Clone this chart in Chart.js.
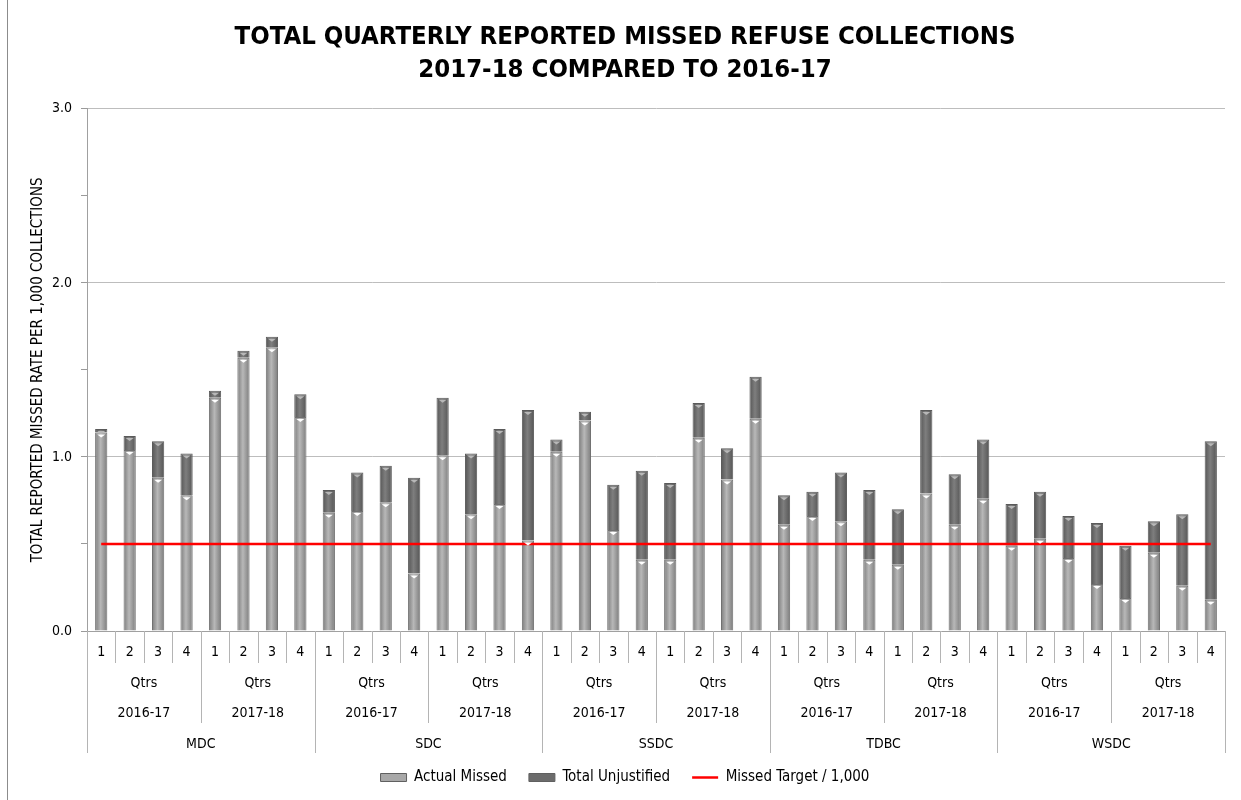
<!DOCTYPE html>
<html>
<head>
<meta charset="utf-8">
<script src="https://cdn.jsdelivr.net/npm/chart.js@4/dist/chart.umd.min.js"></script>
<style>
  html, body { margin: 0; padding: 0; background: #fff; }
  #wrap { position: relative; width: 1241px; height: 800px; }
  #frame { position: absolute; left: 7px; top: 0; width: 1px; height: 800px; background: #8c8c8c; }
</style>
</head>
<body>
<div id="wrap">
  <canvas id="missedChart" width="1241" height="800"></canvas>
  <div id="frame"></div>
</div>
<script>
// Categorias
const councils = ["MDC", "SDC", "SSDC", "TDBC", "WSDC"]
const years = ["2016-17", "2017-18"]
const quarters = ["1", "2", "3", "4"]

// Valores, por conselho: 2016-17 Q1-4 e depois 2017-18 Q1-4
const actualMissed = [
  1.14, 1.04, 0.88, 0.78, 1.34, 1.57, 1.63, 1.23,
  0.68, 0.69, 0.74, 0.33, 1.01, 0.67, 0.73, 0.52,
  1.03, 1.21, 0.58, 0.41, 0.41, 1.11, 0.87, 1.22,
  0.61, 0.66, 0.63, 0.41, 0.38, 0.79, 0.61, 0.76,
  0.49, 0.53, 0.42, 0.27, 0.19, 0.45, 0.26, 0.18,
]
const totalUnjustified = [
  0.02, 0.08, 0.21, 0.24, 0.04, 0.04, 0.06, 0.13,
  0.13, 0.22, 0.21, 0.55, 0.33, 0.35, 0.43, 0.75,
  0.07, 0.05, 0.26, 0.51, 0.44, 0.20, 0.18, 0.24,
  0.17, 0.14, 0.28, 0.40, 0.32, 0.48, 0.29, 0.34,
  0.24, 0.27, 0.24, 0.35, 0.30, 0.18, 0.41, 0.91,
]
const missedTarget = [
  0.5, 0.5, 0.5, 0.5, 0.5, 0.5, 0.5, 0.5,
  0.5, 0.5, 0.5, 0.5, 0.5, 0.5, 0.5, 0.5,
  0.5, 0.5, 0.5, 0.5, 0.5, 0.5, 0.5, 0.5,
  0.5, 0.5, 0.5, 0.5, 0.5, 0.5, 0.5, 0.5,
  0.5, 0.5, 0.5, 0.5, 0.5, 0.5, 0.5, 0.5,
]
const yTicks = [0, 0.5, 1, 1.5, 2, 2.5, 3]

const labels = councils.flatMap(() => years.flatMap(() => quarters))

const FONT = "'Liberation Sans Narrow', 'Arial Narrow', 'DejaVu Sans Condensed', 'Liberation Sans', sans-serif"
const BAR_PCT = 0.43

// Gradiente horizontal em cada barra (efeito cilindro)
function barGradient(light, dark, solid) {
  return (c) => {
    const chart = c.chart
    const x = chart.scales && chart.scales.x
    if (!x || c.type !== "data" || !x.width) return solid
    const cx = x.getPixelForValue(c.dataIndex)
    const half = (x.width / labels.length) * BAR_PCT / 2
    const g = chart.ctx.createLinearGradient(cx - half, 0, cx + half, 0)
    g.addColorStop(0, dark)
    g.addColorStop(0.45, light)
    g.addColorStop(1, dark)
    return g
  }
}

// Triângulos no topo de cada segmento + etiquetas agrupadas do eixo X
const decorPlugin = {
  id: "decor",
  afterDatasetsDraw(chart) {
    const ctx = chart.ctx
    const tri = [[0, "#ffffff"], [1, "#b8b8b8"]]
    tri.forEach(([di, color]) => {
      const meta = chart.getDatasetMeta(di)
      meta.data.forEach((bar) => {
        ctx.save()
        ctx.fillStyle = color
        ctx.beginPath()
        ctx.moveTo(bar.x - 4, bar.y + 2)
        ctx.lineTo(bar.x + 4, bar.y + 2)
        ctx.lineTo(bar.x, bar.y + 5)
        ctx.closePath()
        ctx.fill()
        ctx.restore()
      })
    })
  },
  afterDraw(chart) {
    const ctx = chart.ctx
    const x = chart.scales.x
    const bottom = chart.chartArea.bottom
    const step = x.width / labels.length
    const edge = (i) => x.getPixelForValue(i) - step / 2
    ctx.save()
    ctx.strokeStyle = "#b4b4b4"
    ctx.lineWidth = 1
    for (let i = 0; i <= labels.length; i++) {
      let len = 32
      if (i % (quarters.length * years.length) === 0) len = 122
      else if (i % quarters.length === 0) len = 92
      const px = Math.round(edge(i)) + 0.5
      ctx.beginPath()
      ctx.moveTo(px, bottom)
      ctx.lineTo(px, bottom + len)
      ctx.stroke()
    }
    ctx.fillStyle = "#000"
    ctx.textAlign = "center"
    ctx.textBaseline = "middle"
    ctx.font = "14px " + FONT
    const perYear = quarters.length
    for (let g = 0; g < councils.length * years.length; g++) {
      const cx = (edge(g * perYear) + edge((g + 1) * perYear)) / 2
      ctx.fillText("Qtrs", cx, bottom + 52)
      ctx.fillText(years[g % years.length], cx, bottom + 82)
    }
    const perCouncil = quarters.length * years.length
    councils.forEach((name, k) => {
      const cx = (edge(k * perCouncil) + edge((k + 1) * perCouncil)) / 2
      ctx.fillText(name, cx, bottom + 113)
    })
    ctx.restore()
  },
}

function createChart() {
  const ctx = document.getElementById("missedChart").getContext("2d")
  const Chart = window.Chart
  new Chart(ctx, {
    type: "bar",
    data: {
      labels: labels,
      datasets: [
        {
          label: "Actual Missed",
          data: actualMissed,
          backgroundColor: barGradient("#b8b8b8", "#7c7c7c", "#a0a0a0"),
          borderColor: "#707070",
          borderWidth: 1,
          barPercentage: BAR_PCT,
          categoryPercentage: 1,
          stack: "missed",
          order: 2,
        },
        {
          label: "Total Unjustified",
          data: totalUnjustified,
          backgroundColor: barGradient("#7e7e7e", "#555555", "#6a6a6a"),
          borderColor: "#5a5a5a",
          borderWidth: 1,
          barPercentage: BAR_PCT,
          categoryPercentage: 1,
          stack: "missed",
          order: 2,
        },
        {
          type: "line",
          label: "Missed Target / 1,000",
          data: missedTarget,
          borderColor: "#ff0000",
          backgroundColor: "#ff0000",
          borderWidth: 2.5,
          pointRadius: 0,
          fill: false,
          stack: "target",
          order: 0,
        },
      ],
    },
    plugins: [decorPlugin],
    options: {
      responsive: false,
      animation: false,
      layout: { padding: { left: 25, right: 16, top: 0, bottom: 5 } },
      plugins: {
        title: {
          display: true,
          text: ["TOTAL QUARTERLY REPORTED MISSED REFUSE COLLECTIONS", "2017-18 COMPARED TO 2016-17"],
          color: "#000",
          font: { family: FONT, size: 25.5, weight: "bold", lineHeight: 1.29 },
          padding: { top: 21, bottom: 22 },
        },
        legend: {
          display: true,
          position: "bottom",
          labels: {
            usePointStyle: true,
            pointStyleWidth: 26,
            boxHeight: 8,
            padding: 22,
            color: "#000",
            font: { family: FONT, size: 15 },
            generateLabels: (chart) => {
              const base = Chart.defaults.plugins.legend.labels.generateLabels(chart)
              const fills = ["#a8a8a8", "#6c6c6c", "#ff0000"]
              const styles = ["rect", "rect", "line"]
              return base
                .sort((a, b) => a.datasetIndex - b.datasetIndex)
                .map((item) => {
                  const i = item.datasetIndex
                  return {
                    ...item,
                    fillStyle: fills[i],
                    strokeStyle: i === 2 ? "#ff0000" : "#606060",
                    lineWidth: i === 2 ? 2.5 : 1,
                    pointStyle: styles[i],
                  }
                })
            },
          },
        },
        tooltip: { enabled: false },
      },
      scales: {
        x: {
          stacked: true,
          offset: true,
          grid: { display: false, drawTicks: false },
          border: { display: true, color: "#a0a0a0" },
          ticks: {
            color: "#000",
            padding: 13,
            font: { family: FONT, size: 14 },
            maxRotation: 0,
            autoSkip: false,
          },
          afterFit: (scale) => { scale.height = 117 },
        },
        y: {
          stacked: true,
          min: 0,
          max: 3,
          afterBuildTicks: (scale) => { scale.ticks = yTicks.map((v) => ({ value: v })) },
          grid: {
            color: (c) => (c.tick && c.tick.value > 0 && Number.isInteger(c.tick.value) ? "#bdbdbd" : "rgba(0,0,0,0)"),
            tickColor: "#9a9a9a",
            tickLength: 6,
          },
          border: { display: true, color: "#a0a0a0" },
          ticks: {
            color: "#000",
            padding: 9,
            font: { family: FONT, size: 14 },
            callback: (v) => (Number.isInteger(v) ? v.toFixed(1) : ""),
          },
          title: {
            display: true,
            text: "TOTAL REPORTED MISSED RATE PER 1,000 COLLECTIONS",
            color: "#000",
            font: { family: FONT, size: 15 },
            padding: { top: 4, bottom: 0 },
          },
          afterFit: (scale) => { scale.width = 62 },
        },
      },
    },
  })
}

document.addEventListener("DOMContentLoaded", () => {
  createChart()
})
</script>
</body>
</html>
